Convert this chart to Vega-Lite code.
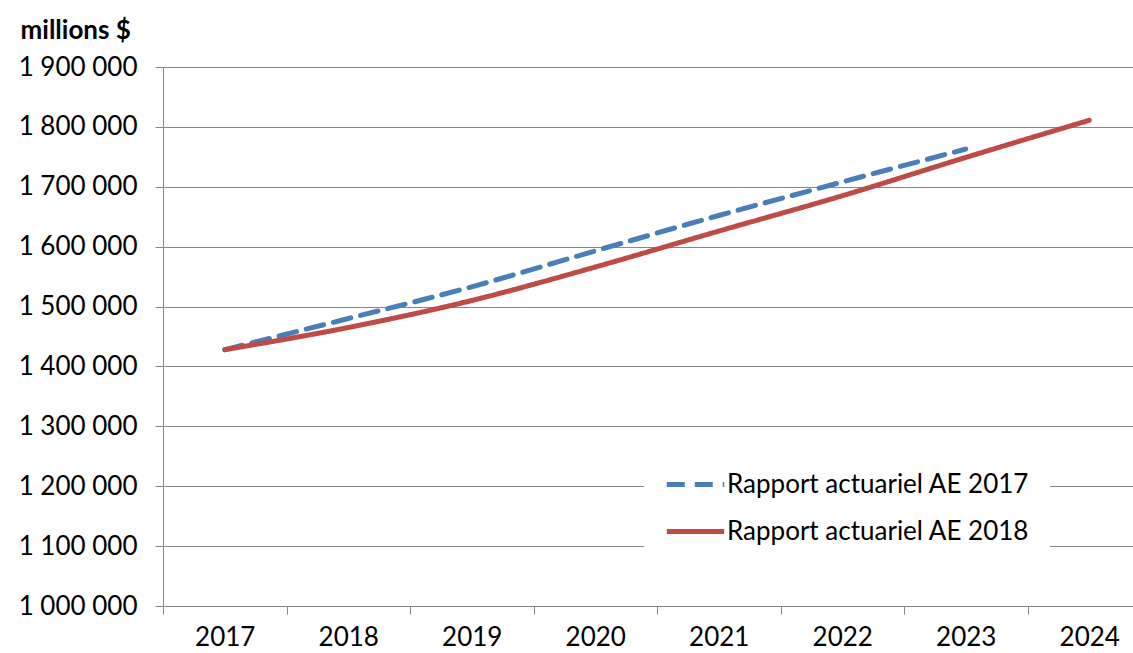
{
  "$schema": "https://vega.github.io/schema/vega-lite/v6.json",
  "width": 988,
  "height": 539,
  "autosize": {"type": "none"},
  "padding": {"left": 163, "top": 67, "right": 0, "bottom": 47},
  "background": "white",
  "config": {
    "font": "Lato",
    "view": {"stroke": null},
    "locale": {"number": {"decimal": ",", "thousands": " ", "grouping": [3], "currency": ["", " $"]}}
  },
  "data": {
    "values": [
      {"annee": "2017", "serie": "Rapport actuariel AE 2017", "valeur": 1428000},
      {"annee": "2018", "serie": "Rapport actuariel AE 2017", "valeur": 1480000},
      {"annee": "2019", "serie": "Rapport actuariel AE 2017", "valeur": 1533000},
      {"annee": "2020", "serie": "Rapport actuariel AE 2017", "valeur": 1593000},
      {"annee": "2021", "serie": "Rapport actuariel AE 2017", "valeur": 1652000},
      {"annee": "2022", "serie": "Rapport actuariel AE 2017", "valeur": 1708000},
      {"annee": "2023", "serie": "Rapport actuariel AE 2017", "valeur": 1763000},
      {"annee": "2017", "serie": "Rapport actuariel AE 2018", "valeur": 1428000},
      {"annee": "2018", "serie": "Rapport actuariel AE 2018", "valeur": 1465000},
      {"annee": "2019", "serie": "Rapport actuariel AE 2018", "valeur": 1510000},
      {"annee": "2020", "serie": "Rapport actuariel AE 2018", "valeur": 1566000},
      {"annee": "2021", "serie": "Rapport actuariel AE 2018", "valeur": 1626000},
      {"annee": "2022", "serie": "Rapport actuariel AE 2018", "valeur": 1685000},
      {"annee": "2023", "serie": "Rapport actuariel AE 2018", "valeur": 1749000},
      {"annee": "2024", "serie": "Rapport actuariel AE 2018", "valeur": 1811000}
    ]
  },
  "mark": {"type": "line", "strokeWidth": 5, "interpolate": "monotone", "strokeCap": "round"},
  "encoding": {
    "x": {
      "field": "annee",
      "type": "ordinal",
      "scale": {"type": "band", "paddingInner": 0, "paddingOuter": 0},
      "axis": {
        "title": null,
        "labelAngle": 0,
        "tickBand": "extent",
        "tickSize": 8,
        "tickColor": "#878787",
        "domainColor": "#878787",
        "labelFontSize": 26,
        "labelColor": "#000000",
        "labelPadding": 10,
        "grid": false
      }
    },
    "y": {
      "field": "valeur",
      "type": "quantitative",
      "scale": {"domain": [1000000, 1900000], "nice": false, "zero": false},
      "axis": {
        "values": [1000000, 1100000, 1200000, 1300000, 1400000, 1500000, 1600000, 1700000, 1800000, 1900000],
        "format": ",d",
        "grid": true,
        "gridColor": "#878787",
        "domainColor": "#878787",
        "tickColor": "#878787",
        "tickSize": 8,
        "labelFontSize": 26,
        "labelColor": "#000000",
        "labelPadding": 18,
        "title": "millions $",
        "titleAngle": 0,
        "titleAlign": "left",
        "titleBaseline": "alphabetic",
        "titleX": -143,
        "titleY": -29,
        "titleFontSize": 26,
        "titleFontWeight": "bold",
        "titleColor": "#000000"
      }
    },
    "color": {
      "field": "serie",
      "type": "nominal",
      "scale": {"range": ["#4A7EBB", "#BE4B48"]},
      "legend": {
        "title": null,
        "orient": "none",
        "legendX": 481,
        "legendY": 366,
        "fillColor": "white",
        "padding": 20,
        "symbolType": "stroke",
        "symbolStrokeWidth": 5,
        "symbolSize": 3300,
        "labelFontSize": 26,
        "labelColor": "#000000",
        "labelOffset": 0,
        "labelLimit": 0,
        "rowPadding": 2
      }
    },
    "strokeDash": {
      "field": "serie",
      "type": "nominal",
      "scale": {"range": [[18, 10], [1, 0]]},
      "legend": {
        "title": null,
        "orient": "none",
        "legendX": 481,
        "legendY": 366,
        "fillColor": "white",
        "padding": 20,
        "symbolType": "stroke",
        "symbolStrokeWidth": 5,
        "symbolSize": 3300,
        "labelFontSize": 26,
        "labelColor": "#000000",
        "labelOffset": 0,
        "labelLimit": 0,
        "rowPadding": 2
      }
    }
  }
}
